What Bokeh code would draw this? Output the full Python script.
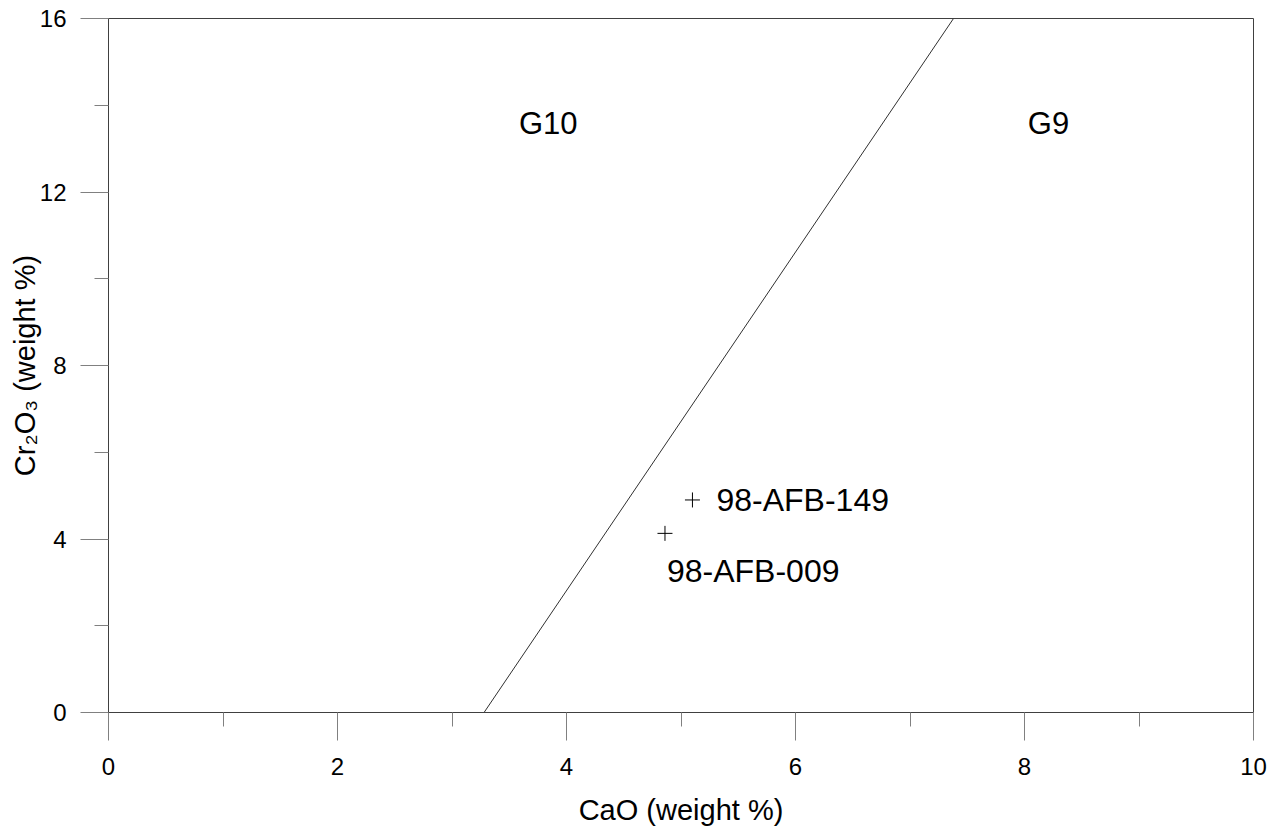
from bokeh.plotting import figure
from bokeh.models import Range1d, FixedTicker, ColumnDataSource
from bokeh.core.properties import value
from bokeh.embed import file_html
from bokeh.resources import INLINE

# ---- data ----
x_major = [0, 2, 4, 6, 8, 10]
x_minor = [1, 3, 5, 7, 9]
y_major = [0, 4, 8, 12, 16]
y_minor = [2, 6, 10, 14]

boundary_cao = [3.28, 7.38]
boundary_cr = [0.0, 16.0]

sample_names = ["98-AFB-149", "98-AFB-009"]
sample_cao = [5.10, 4.86]
sample_cr = [4.90, 4.13]

field_names = ["G10", "G9"]
field_cao = [3.84, 8.21]
field_cr = [13.58, 13.58]

FONT = "Liberation Sans"

p = figure(width=1270, height=832, output_backend="svg", toolbar_location=None,
           x_range=Range1d(0, 10), y_range=Range1d(0, 16),
           min_border_left=108, min_border_right=17, min_border_top=18, min_border_bottom=120)
p.grid.visible = False
p.outline_line_color = "#404040"
p.outline_line_width = 1
p.background_fill_color = "white"
p.border_fill_color = "white"

p.xaxis.ticker = FixedTicker(ticks=x_major, minor_ticks=x_minor)
p.yaxis.ticker = FixedTicker(ticks=y_major, minor_ticks=y_minor)

for ax in (p.xaxis[0], p.yaxis[0]):
    ax.axis_line_color = "#404040"
    ax.major_tick_line_color = "#808080"
    ax.minor_tick_line_color = "#808080"
    ax.major_tick_in = 0
    ax.major_tick_out = 28
    ax.minor_tick_in = 0
    ax.minor_tick_out = 14
    ax.major_label_text_font = FONT
    ax.major_label_text_font_size = "24px"
    ax.major_label_text_color = "black"
    ax.axis_label_text_font = FONT
    ax.axis_label_text_font_size = "29px"
    ax.axis_label_text_font_style = "normal"
    ax.axis_label_text_color = "black"

p.xaxis.axis_label = "CaO (weight %)"
p.yaxis.axis_label = "Cr\u2082O\u2083 (weight %)"
p.xaxis.major_label_standoff = 17
p.xaxis.axis_label_standoff = 16
p.yaxis.major_label_standoff = 14
p.yaxis.axis_label_standoff = -4

# boundary line
p.line(boundary_cao, boundary_cr, line_color="#303030", line_width=1)

# samples
src = ColumnDataSource(dict(x=sample_cao, y=sample_cr, name=sample_names,
                            xo=[24, 2], yo=[0, 38]))
p.scatter("x", "y", source=src, marker="cross", size=15, line_color="black", line_width=1)
p.text("x", "y", text="name", source=src, x_offset="xo", y_offset="yo",
       text_font=value(FONT), text_font_size="32px", text_color="black",
       text_align="left", text_baseline="alphabetic")

# field labels
fsrc = ColumnDataSource(dict(x=field_cao, y=field_cr, name=field_names))
p.text("x", "y", text="name", source=fsrc,
       text_font=value(FONT), text_font_size="31px", text_color="black",
       text_align="center", text_baseline="alphabetic")

open("out.html", "w").write(file_html(p, INLINE))
